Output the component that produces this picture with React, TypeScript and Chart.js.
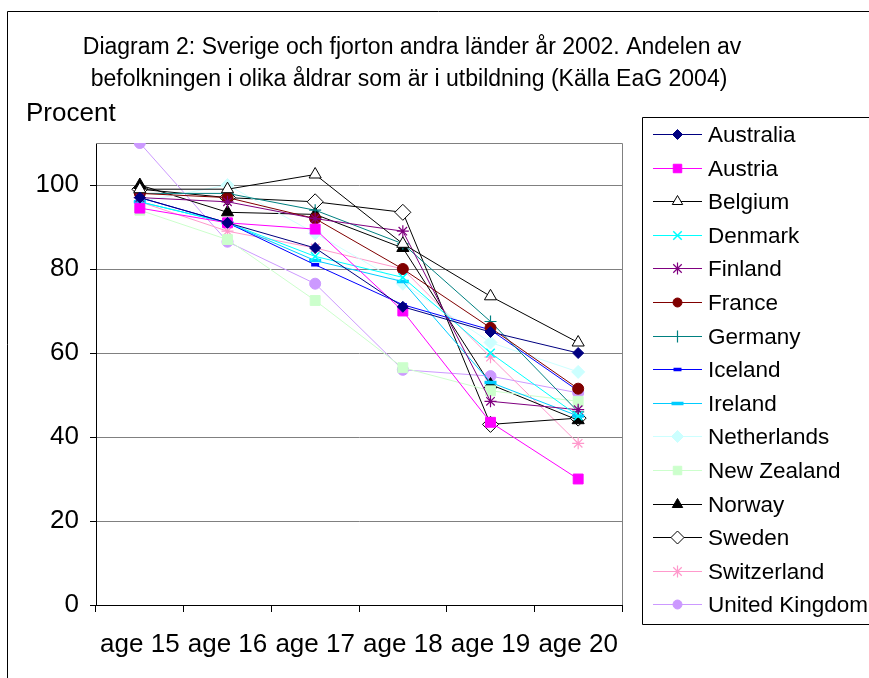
import React, { useEffect, useRef } from 'react';
import { Chart, registerables } from 'chart.js';

Chart.register(...registerables);

const titleLines = [
  'Diagram 2: Sverige och fjorton andra länder år 2002. Andelen av',
  'befolkningen i olika åldrar som är i utbildning (Källa EaG 2004)',
];
const yAxisTitle = 'Procent';
const ageLabels = ['age 15', 'age 16', 'age 17', 'age 18', 'age 19', 'age 20'];
const yTicks = [0, 20, 40, 60, 80, 100];

const australia = [97, 91, 85, 71, 65, 60];
const austria = [94.5, 91, 89.5, 70, 43.5, 30];
const belgium = [99, 99, 102.5, 86, 73.5, 62.5];
const denmark = [96, 91, 83, 78, 60, 45];
const finland = [97, 96, 92, 89, 48.5, 46.5];
const france = [98, 97, 92, 80, 66, 51.5];
const germany = [98, 98, 94, 86, 67.5, 46];
const iceland = [97, 91, 81, 71.5, 65.5, 51];
const ireland = [96, 91, 82, 77, 53, 45];
const netherlands = [96, 100, 88.5, 76.5, 62.5, 55.5];
const newZealand = [94, 87, 72.5, 56.5, 51, 48.5];
const norway = [100, 93.5, 93, 85, 52.5, 44];
const sweden = [99, 97, 96, 93.5, 43, 44.5];
const switzerland = [96, 89, 85, 80, 59, 38.5];
const unitedKingdom = [110, 86.5, 76.5, 56, 54.5, 50.5];

const seriesNames = [
  'Australia', 'Austria', 'Belgium', 'Denmark', 'Finland', 'France', 'Germany', 'Iceland',
  'Ireland', 'Netherlands', 'New Zealand', 'Norway', 'Sweden', 'Switzerland', 'United Kingdom',
];
const seriesValues = [
  australia, austria, belgium, denmark, finland, france, germany, iceland,
  ireland, netherlands, newZealand, norway, sweden, switzerland, unitedKingdom,
];

type Sty = { line: string; style: string; r: number; fill: string; border: string; bw: number; lr: number };
const styles: Sty[] = [
  { line: '#000080', style: 'rectRot', r: 5.5, fill: '#000080', border: '#000080', bw: 1, lr: 5 },
  { line: '#FF00FF', style: 'rect', r: 7, fill: '#FF00FF', border: '#FF00FF', bw: 1, lr: 6 },
  { line: '#000000', style: 'triangle', r: 7, fill: '#FFFFFF', border: '#000000', bw: 1, lr: 6 },
  { line: '#00FFFF', style: 'crossRot', r: 6, fill: '#00FFFF', border: '#00FFFF', bw: 1.5, lr: 6 },
  { line: '#800080', style: 'star', r: 6, fill: '#800080', border: '#800080', bw: 1.2, lr: 6 },
  { line: '#800000', style: 'circle', r: 5.5, fill: '#800000', border: '#800000', bw: 1, lr: 4.5 },
  { line: '#008080', style: 'cross', r: 6, fill: '#008080', border: '#008080', bw: 1.2, lr: 6 },
  { line: '#0000FF', style: 'line', r: 4, fill: '#0000FF', border: '#0000FF', bw: 3.5, lr: 4 },
  { line: '#00CCFF', style: 'line', r: 6, fill: '#00CCFF', border: '#00CCFF', bw: 3.5, lr: 6 },
  { line: '#CCFFFF', style: 'rectRot', r: 6.5, fill: '#CCFFFF', border: '#CCFFFF', bw: 1, lr: 6 },
  { line: '#CCFFCC', style: 'rect', r: 7, fill: '#CCFFCC', border: '#CCFFCC', bw: 1, lr: 6 },
  { line: '#000000', style: 'triangle', r: 7, fill: '#000000', border: '#000000', bw: 1, lr: 6 },
  { line: '#000000', style: 'rectRot', r: 8, fill: '#FFFFFF', border: '#000000', bw: 1, lr: 6.5 },
  { line: '#FF99CC', style: 'star', r: 6, fill: '#FF99CC', border: '#FF99CC', bw: 1.2, lr: 6 },
  { line: '#CC99FF', style: 'circle', r: 5.5, fill: '#CC99FF', border: '#CC99FF', bw: 1, lr: 4.5 },
];

const FONT = '"Liberation Sans", Arial, sans-serif';

function drawMarker(ctx: CanvasRenderingContext2D, s: Sty, x: number, y: number) {
  const r = s.lr;
  ctx.save();
  ctx.fillStyle = s.fill;
  ctx.strokeStyle = s.border;
  ctx.lineWidth = s.bw;
  ctx.beginPath();
  switch (s.style) {
    case 'rectRot':
      ctx.moveTo(x, y - r); ctx.lineTo(x + r, y); ctx.lineTo(x, y + r); ctx.lineTo(x - r, y); ctx.closePath();
      ctx.fill(); ctx.stroke(); break;
    case 'rect': {
      const h = r * Math.SQRT1_2;
      ctx.rect(x - h, y - h, 2 * h, 2 * h); ctx.fill(); ctx.stroke(); break;
    }
    case 'triangle':
      ctx.moveTo(x, y - r); ctx.lineTo(x + r * 0.866, y + r * 0.5); ctx.lineTo(x - r * 0.866, y + r * 0.5); ctx.closePath();
      ctx.fill(); ctx.stroke(); break;
    case 'circle':
      ctx.arc(x, y, r, 0, Math.PI * 2); ctx.fill(); ctx.stroke(); break;
    case 'crossRot': {
      const d = r * 0.707;
      ctx.moveTo(x - d, y - d); ctx.lineTo(x + d, y + d); ctx.moveTo(x + d, y - d); ctx.lineTo(x - d, y + d); ctx.stroke(); break;
    }
    case 'cross':
      ctx.moveTo(x, y - r); ctx.lineTo(x, y + r); ctx.moveTo(x - r, y); ctx.lineTo(x + r, y); ctx.stroke(); break;
    case 'star': {
      const d = r * 0.707;
      ctx.moveTo(x, y - r); ctx.lineTo(x, y + r);
      ctx.moveTo(x - d, y - d); ctx.lineTo(x + d, y + d); ctx.moveTo(x + d, y - d); ctx.lineTo(x - d, y + d); ctx.stroke(); break;
    }
    case 'line':
      ctx.moveTo(x - r, y); ctx.lineTo(x + r, y); ctx.stroke(); break;
  }
  ctx.restore();
}

const decor = {
  id: 'decor',
  beforeDraw(chart: any) {
    const ctx: CanvasRenderingContext2D = chart.ctx;
    ctx.save();
    ctx.fillStyle = '#FFFFFF';
    ctx.fillRect(0, 0, chart.width, chart.height);
    ctx.strokeStyle = '#000000';
    ctx.lineWidth = 1;
    ctx.beginPath();
    ctx.moveTo(7.5, chart.height);
    ctx.lineTo(7.5, 11.5);
    ctx.lineTo(chart.width, 11.5);
    ctx.stroke();
    ctx.fillStyle = '#000000';
    ctx.textBaseline = 'middle';
    ctx.textAlign = 'center';
    ctx.font = `23px ${FONT}`;
    ctx.fillText(titleLines[0], 412, 48);
    ctx.fillText(titleLines[1], 409, 80);
    ctx.textAlign = 'left';
    ctx.font = `26px ${FONT}`;
    ctx.fillText(yAxisTitle, 26, 114);
    ctx.restore();
  },
  beforeDatasetsDraw(chart: any) {
    const ctx: CanvasRenderingContext2D = chart.ctx;
    const a = chart.chartArea;
    ctx.save();
    ctx.strokeStyle = '#808080';
    ctx.lineWidth = 1;
    ctx.beginPath();
    ctx.moveTo(a.left, Math.round(a.top) + 0.5);
    ctx.lineTo(Math.round(a.right) + 0.5, Math.round(a.top) + 0.5);
    ctx.lineTo(Math.round(a.right) + 0.5, a.bottom);
    ctx.stroke();
    ctx.restore();
  },
  afterDraw(chart: any) {
    const ctx: CanvasRenderingContext2D = chart.ctx;
    ctx.save();
    ctx.strokeStyle = '#000000';
    ctx.lineWidth = 1;
    ctx.fillStyle = '#FFFFFF';
    ctx.beginPath();
    ctx.rect(642.5, 117.5, 300, 507);
    ctx.fill();
    ctx.stroke();
    ctx.font = `22.5px ${FONT}`;
    ctx.textBaseline = 'middle';
    ctx.textAlign = 'left';
    seriesNames.forEach((name, i) => {
      const y = Math.round(134 + i * 33.6) + 0.5;
      const s = styles[i];
      ctx.strokeStyle = s.line;
      ctx.lineWidth = 1;
      ctx.beginPath();
      ctx.moveTo(653, y);
      ctx.lineTo(702, y);
      ctx.stroke();
      drawMarker(ctx, s, 677.5, y);
      ctx.fillStyle = '#000000';
      ctx.fillText(name, 708, y + 1);
    });
    ctx.restore();
  },
};

export default function App() {
  const ref = useRef<HTMLCanvasElement>(null);
  useEffect(() => {
    if (!ref.current) return;
    const chart = new Chart(ref.current, {
      type: 'line',
      data: {
        labels: ageLabels,
        datasets: seriesNames.map((name, i) => ({
          label: name,
          data: seriesValues[i],
          borderColor: styles[i].line,
          borderWidth: 1,
          backgroundColor: styles[i].fill,
          pointStyle: styles[i].style as any,
          pointRadius: styles[i].r,
          pointBackgroundColor: styles[i].fill,
          pointBorderColor: styles[i].border,
          pointBorderWidth: styles[i].bw,
          tension: 0,
          fill: false,
        })),
      },
      options: {
        animation: false,
        responsive: false,
        layout: { padding: { left: 0, right: 247, top: 143, bottom: 0 } },
        plugins: { legend: { display: false }, title: { display: false }, tooltip: { enabled: false } },
        scales: {
          x: {
            type: 'category',
            offset: true,
            grid: { offset: true, drawOnChartArea: false, tickLength: 7, color: '#000000', tickColor: '#000000' },
            border: { color: '#000000' },
            ticks: { color: '#000000', font: { family: FONT, size: 26 }, padding: 17, maxRotation: 0, autoSkip: false },
            afterFit: (s: any) => { s.height = 73; },
          },
          y: {
            min: 0,
            max: 110,
            afterBuildTicks: (s: any) => { s.ticks = yTicks.concat([110]).map((v) => ({ value: v })); },
            grid: {
              color: (c: any) => (c.tick && c.tick.value === 0 ? '#000000' : '#808080'),
              tickColor: (c: any) => (c.tick && c.tick.value === 110 ? 'rgba(0,0,0,0)' : '#000000'),
              tickLength: 6,
            },
            border: { color: '#000000' },
            ticks: {
              color: '#000000',
              font: { family: FONT, size: 26 },
              padding: 11,
              callback: (v: any) => (v === 110 ? '' : String(v)),
            },
            afterFit: (s: any) => { s.width = 96; },
          },
        },
      },
      plugins: [decor],
    });
    return () => chart.destroy();
  }, []);
  return (
    <div style={{ position: 'absolute', left: 0, top: 0, width: 869, height: 678 }}>
      <canvas ref={ref} width={869} height={678} style={{ display: 'block', width: 869, height: 678 }} />
    </div>
  );
}
